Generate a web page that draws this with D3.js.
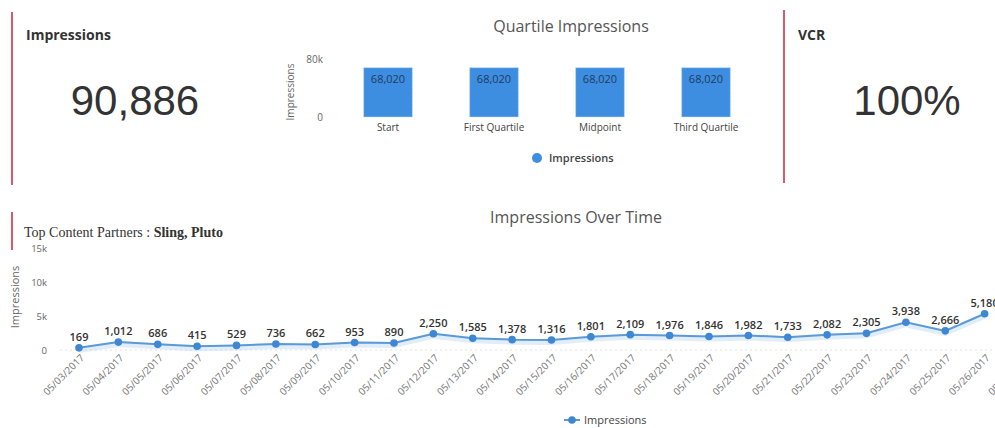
<!DOCTYPE html>
<html>
<head>
<meta charset="utf-8">
<script src="https://cdn.jsdelivr.net/npm/d3@7/dist/d3.min.js"></script>
<style>
  html, body { margin: 0; padding: 0; background: #fff; overflow: hidden; }
  svg { display: block; font-family: "Open Sans", "DejaVu Sans", sans-serif; }
</style>
</head>
<body>
<svg id="dash" width="995" height="428"></svg>
<script>
// ---- dashboard values ----
const totalImpressions = 90886;
const vcrPercent = 100;

const quartileCategories = ["Start", "First Quartile", "Midpoint", "Third Quartile"];
const quartileValues = [68020, 68020, 68020, 68020];
const quartileTicks = [0, 80000];

const contentPartners = ["Sling", "Pluto"];

const dates = [
  "05/03/2017", "05/04/2017", "05/05/2017", "05/06/2017", "05/07/2017",
  "05/08/2017", "05/09/2017", "05/10/2017", "05/11/2017", "05/12/2017",
  "05/13/2017", "05/14/2017", "05/15/2017", "05/16/2017", "05/17/2017",
  "05/18/2017", "05/19/2017", "05/20/2017", "05/21/2017", "05/22/2017",
  "05/23/2017", "05/24/2017", "05/25/2017", "05/26/2017", "05/27/2017"
];
const dailyImpressions = [
  169, 1012, 686, 415, 529, 736, 662, 953, 890, 2250,
  1585, 1378, 1316, 1801, 2109, 1976, 1846, 1982, 1733, 2082,
  2305, 3938, 2666, 5180
];
const lineTicks = [0, 5000, 10000, 15000];

// ---- styling ----
const accentRed = "#d45a6c";
const barBlue = "#3d8ee0";
const lineBlue = "#5a9ad8";
const pointBlue = "#3f86d3";
const fmt = d3.format(",");
const kfmt = d => d === 0 ? "0" : (d / 1000) + "k";

const svg = d3.select("#dash");

// ---- KPI cards ----
function kpiCard(x, yTop, yBot, title, value, cx) {
  svg.append("line")
    .attr("x1", x).attr("x2", x).attr("y1", yTop).attr("y2", yBot)
    .attr("stroke", accentRed).attr("stroke-width", 2);
  svg.append("text")
    .attr("x", x + 14).attr("y", 40)
    .attr("font-family", "'Open Sans', sans-serif")
    .attr("font-weight", 700).attr("font-size", 14).attr("fill", "#333")
    .text(title);
  svg.append("text")
    .attr("x", cx).attr("y", 115)
    .attr("text-anchor", "middle")
    .attr("font-family", "'Liberation Sans', Arial, sans-serif")
    .attr("font-size", 42).attr("fill", "#333")
    .text(value);
}
kpiCard(12, 12, 185, "Impressions", fmt(totalImpressions), 135);
kpiCard(784, 10, 183, "VCR", vcrPercent + "%", 907);

// ---- Quartile Impressions bar chart ----
const qx = d3.scaleBand().domain(quartileCategories).range([335, 759]).paddingInner(0.54).paddingOuter(0.27);
const qy = d3.scaleLinear().domain([0, 80000]).range([117, 59]);

svg.append("text")
  .attr("x", 571).attr("y", 32).attr("text-anchor", "middle")
  .attr("font-size", 16).attr("fill", "#555")
  .text("Quartile Impressions");

const qAxis = svg.append("g").attr("transform", "translate(323,0)")
  .call(d3.axisLeft(qy).tickValues(quartileTicks).tickFormat(kfmt).tickSize(0).tickPadding(0));
qAxis.select(".domain").remove();
qAxis.selectAll("text").attr("font-size", 10).attr("fill", "#666").attr("font-family", "'Open Sans', sans-serif");

svg.append("text")
  .attr("transform", "translate(294,92) rotate(-90)")
  .attr("text-anchor", "middle").attr("font-size", 10).attr("fill", "#666")
  .text("Impressions");

const bars = svg.append("g");
bars.selectAll("rect").data(quartileValues).join("rect")
  .attr("x", (d, i) => qx(quartileCategories[i]))
  .attr("width", qx.bandwidth())
  .attr("y", d => qy(d))
  .attr("height", d => qy(0) - qy(d))
  .attr("fill", barBlue)
  .attr("stroke", "#c9def3").attr("stroke-width", 1).attr("stroke-dasharray", "1,1");
bars.selectAll("text.val").data(quartileValues).join("text")
  .attr("class", "val")
  .attr("x", (d, i) => qx(quartileCategories[i]) + qx.bandwidth() / 2)
  .attr("y", d => qy(d) + 15)
  .attr("text-anchor", "middle").attr("font-size", 11).attr("fill", "#223a5e")
  .text(d => fmt(d));

const qxAxis = svg.append("g").attr("transform", "translate(0,122)")
  .call(d3.axisBottom(qx).tickSize(0).tickPadding(0));
qxAxis.select(".domain").remove();
qxAxis.selectAll("text").attr("font-size", 10).attr("fill", "#444").attr("dy", "0.9em")
  .attr("font-family", "'Open Sans', sans-serif");

// legend
svg.append("circle").attr("cx", 537).attr("cy", 158).attr("r", 5).attr("fill", barBlue);
svg.append("text").attr("x", 549).attr("y", 162)
  .attr("font-size", 11).attr("font-weight", 600).attr("fill", "#444")
  .text("Impressions");

// ---- Impressions Over Time line chart ----
svg.append("line")
  .attr("x1", 12).attr("x2", 12).attr("y1", 212).attr("y2", 250)
  .attr("stroke", accentRed).attr("stroke-width", 2);

const partners = svg.append("text")
  .attr("x", 24).attr("y", 237)
  .attr("font-family", "'Liberation Serif', 'DejaVu Serif', serif")
  .attr("font-size", 14).attr("fill", "#333");
partners.append("tspan").text("Top Content Partners : ");
partners.append("tspan").attr("font-weight", 700).text(contentPartners.join(", "));

svg.append("text")
  .attr("x", 576).attr("y", 223).attr("text-anchor", "middle")
  .attr("font-size", 16).attr("fill", "#555")
  .text("Impressions Over Time");

const lx = d3.scalePoint().domain(dates).range([79, 1024]);
const ly = d3.scaleLinear().domain([0, 15000]).range([349, 247]);

// faint baseline
svg.append("line")
  .attr("x1", 60).attr("x2", 995).attr("y1", ly(0) + 1).attr("y2", ly(0) + 1)
  .attr("stroke", "#e4e4e4").attr("stroke-dasharray", "2,3");

const lyAxis = svg.append("g").attr("transform", "translate(47,1)")
  .call(d3.axisLeft(ly).tickValues(lineTicks).tickFormat(kfmt).tickSize(0).tickPadding(0));
lyAxis.select(".domain").remove();
lyAxis.selectAll("text").attr("font-size", 9.5).attr("fill", "#666").attr("font-family", "'Open Sans', sans-serif");

svg.append("text")
  .attr("transform", "translate(19,297) rotate(-90)")
  .attr("text-anchor", "middle").attr("font-size", 11).attr("fill", "#666")
  .text("Impressions");

const lxAxis = svg.append("g").attr("transform", "translate(0,352)")
  .call(d3.axisBottom(lx).tickSize(0).tickPadding(0));
lxAxis.select(".domain").remove();
lxAxis.selectAll("text")
  .attr("font-size", 10).attr("fill", "#777").attr("font-family", "'Open Sans', sans-serif")
  .attr("text-anchor", "end")
  .attr("dy", "0.35em")
  .attr("transform", "translate(3,4) rotate(-45)");

const series = dailyImpressions.map((v, i) => ({ date: dates[i], value: v }));
const line = d3.line().x(d => lx(d.date)).y(d => ly(d.value));

svg.append("path").datum(series)
  .attr("d", line).attr("fill", "none")
  .attr("stroke", "#a9cdf0").attr("stroke-opacity", 0.35).attr("stroke-width", 6)
  .attr("transform", "translate(0,2)");
svg.append("path").datum(series)
  .attr("d", line).attr("fill", "none")
  .attr("stroke", lineBlue).attr("stroke-width", 2);

svg.append("g").selectAll("circle").data(series).join("circle")
  .attr("cx", d => lx(d.date)).attr("cy", d => ly(d.value)).attr("r", 3.8)
  .attr("fill", pointBlue);

svg.append("g").selectAll("text").data(series).join("text")
  .attr("x", d => lx(d.date)).attr("y", d => ly(d.value) - 7)
  .attr("text-anchor", "middle")
  .attr("font-size", 11).attr("font-weight", 600).attr("fill", "#333")
  .attr("stroke", "#fff").attr("stroke-width", 2).attr("paint-order", "stroke")
  .text(d => fmt(d.value));

// legend
svg.append("line").attr("x1", 564).attr("x2", 580).attr("y1", 420).attr("y2", 420)
  .attr("stroke", lineBlue).attr("stroke-width", 2);
svg.append("circle").attr("cx", 572).attr("cy", 420).attr("r", 3.8).attr("fill", pointBlue);
svg.append("text").attr("x", 584).attr("y", 424)
  .attr("font-size", 11).attr("fill", "#444")
  .text("Impressions");
</script>
</body>
</html>
